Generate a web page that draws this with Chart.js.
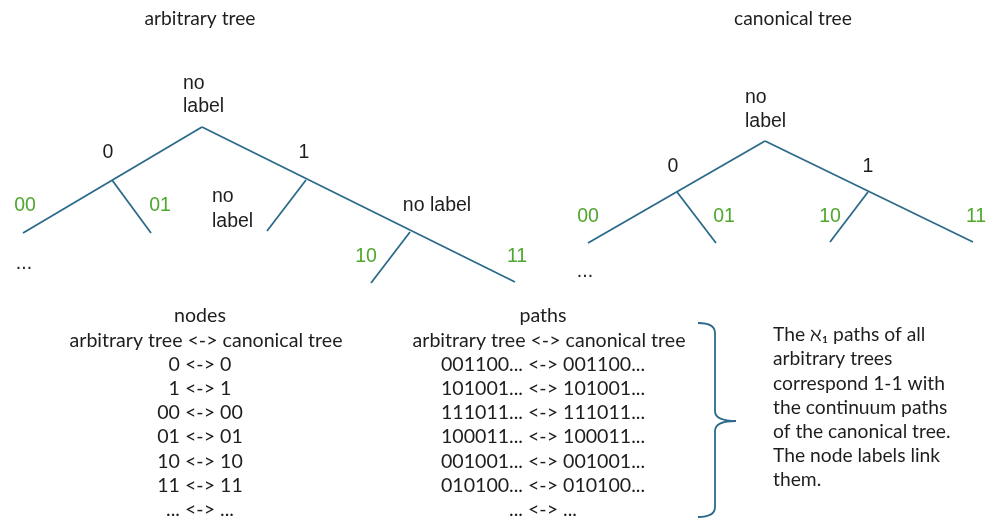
<!DOCTYPE html>
<html>
<head>
<meta charset="utf-8">
<script src="https://cdn.jsdelivr.net/npm/chart.js@4/dist/chart.umd.min.js"></script>
<style>
  html, body { margin: 0; padding: 0; background: #fff; }
  #wrap { width: 989px; height: 518px; }
</style>
</head>
<body>
<div id="wrap"><canvas id="tree" width="989" height="518"></canvas></div>
<script>
// diagram units: x 0..989 left->right, y 0..518 top->bottom
const LINE = '#2b6a8a';
const GREEN = '#4ea72e';
const INK = '#1e1e1e';

// tree edges, each a polyline of [x, y] nodes
const arbitraryEdges = [
  [[202, 127], [23, 233]],
  [[112, 180], [151, 233]],
  [[202, 127], [515, 282]],
  [[306, 180], [267, 231]],
  [[410, 232], [371, 283]]
];
const canonicalEdges = [
  [[765, 141], [588, 243]],
  [[677, 192], [716, 243]],
  [[765, 141], [973, 242]],
  [[868, 192], [830, 242]]
];

// node labels: [text, x, y, colour, align]
const arbitraryLabels = [
  ['no', 183, 84, INK, 'left'],
  ['label', 183, 107, INK, 'left'],
  ['0', 108, 153, INK, 'center'],
  ['1', 304, 153, INK, 'center'],
  ['00', 25, 206, GREEN, 'center'],
  ['01', 160, 206, GREEN, 'center'],
  ['no', 212, 197, INK, 'left'],
  ['label', 212, 222, INK, 'left'],
  ['no label', 437, 206, INK, 'center'],
  ['10', 366, 257, GREEN, 'center'],
  ['11', 517, 257, GREEN, 'center'],
  ['...', 24, 264, INK, 'center']
];
const canonicalLabels = [
  ['no', 745, 98, INK, 'left'],
  ['label', 745, 122, INK, 'left'],
  ['0', 673, 167, INK, 'center'],
  ['1', 868, 167, INK, 'center'],
  ['00', 588, 217, GREEN, 'center'],
  ['01', 724, 217, GREEN, 'center'],
  ['10', 830, 217, GREEN, 'center'],
  ['11', 976, 217, GREEN, 'center'],
  ['...', 585, 272, INK, 'center']
];
const titles = [['arbitrary tree', 200, 19], ['canonical tree', 793, 19]];

// correspondence tables
const nodeRows = ['nodes', 'arbitrary tree <-> canonical tree', '0 <-> 0', '1 <-> 1',
  '00 <-> 00', '01 <-> 01', '10 <-> 10', '11 <-> 11', '... <-> ...'];
const pathRows = ['paths', 'arbitrary tree <-> canonical tree', '001100... <-> 001100...',
  '101001... <-> 101001...', '111011... <-> 111011...', '100011... <-> 100011...',
  '001001... <-> 001001...', '010100... <-> 010100...', '... <-> ...'];
const noteLines = ['The \u2135\u2081 paths of all', 'arbitrary trees', 'correspond 1-1 with',
  'the continuum paths', 'of the canonical tree.', 'The node labels link', 'them.'];

// brace: top end, top of spine, tip, bottom of spine, bottom end
const braceTop = [698, 323], braceSpineX = 715, braceTip = [736, 421], braceBottom = [698, 517];

function edgeDatasets(edges) {
  return edges.map(e => ({
    data: e.map(p => ({ x: p[0], y: p[1] })),
    showLine: true,
    borderColor: LINE,
    borderWidth: 1.8,
    pointRadius: 0,
    fill: false
  }));
}

// pick a font size so that sample text has the wanted width
function fitFont(ctx, family, sample, width) {
  ctx.font = '20px ' + family;
  const size = 20 * width / ctx.measureText(sample).width;
  return size.toFixed(2) + 'px ' + family;
}

const textPlugin = {
  id: 'diagramText',
  afterDraw(chart) {
    const ctx = chart.ctx;
    const sx = v => chart.scales.x.getPixelForValue(v);
    const sy = v => chart.scales.y.getPixelForValue(v);
    const body = 'Lato, "Noto Sans", sans-serif';
    ctx.save();
    ctx.textBaseline = 'middle';

    ctx.font = fitFont(ctx, body, 'arbitrary tree', 111);
    ctx.fillStyle = INK;
    ctx.textAlign = 'center';
    titles.forEach(t => ctx.fillText(t[0], sx(t[1]), sy(t[2])));

    ctx.font = '19.5px "Liberation Sans", Arial, sans-serif';
    [...arbitraryLabels, ...canonicalLabels].forEach(l => {
      ctx.fillStyle = l[3];
      ctx.textAlign = l[4];
      ctx.fillText(l[0], sx(l[1]), sy(l[2]));
    });

    ctx.font = fitFont(ctx, body, 'arbitrary tree <-> canonical tree', 273);
    ctx.fillStyle = INK;
    ctx.textAlign = 'center';
    const rowY = i => 316 + i * 24.2;
    nodeRows.forEach((r, i) => ctx.fillText(r, sx(i === 1 ? 206 : 200), sy(rowY(i))));
    pathRows.forEach((r, i) => ctx.fillText(r, sx(i === 1 ? 549 : 543), sy(rowY(i))));

    ctx.font = fitFont(ctx, body, 'correspond 1-1 with', 172);
    ctx.textAlign = 'left';
    noteLines.forEach((r, i) => ctx.fillText(r, sx(773), sy(335 + i * 24.2)));

    // right brace
    const midY = braceTip[1];
    ctx.strokeStyle = LINE;
    ctx.lineWidth = 1.8;
    ctx.beginPath();
    ctx.moveTo(sx(braceTop[0]), sy(braceTop[1]));
    ctx.quadraticCurveTo(sx(braceSpineX), sy(braceTop[1]), sx(braceSpineX), sy(braceTop[1] + 10));
    ctx.lineTo(sx(braceSpineX), sy(midY - 10));
    ctx.quadraticCurveTo(sx(braceSpineX), sy(midY), sx(braceTip[0]), sy(midY));
    ctx.quadraticCurveTo(sx(braceSpineX), sy(midY), sx(braceSpineX), sy(midY + 10));
    ctx.lineTo(sx(braceSpineX), sy(braceBottom[1] - 10));
    ctx.quadraticCurveTo(sx(braceSpineX), sy(braceBottom[1]), sx(braceBottom[0]), sy(braceBottom[1]));
    ctx.stroke();
    ctx.restore();
  }
};

new Chart(document.getElementById('tree'), {
  type: 'scatter',
  data: { datasets: [...edgeDatasets(arbitraryEdges), ...edgeDatasets(canonicalEdges)] },
  options: {
    responsive: false,
    devicePixelRatio: 1,
    animation: false,
    layout: { padding: 0 },
    plugins: { legend: { display: false }, tooltip: { enabled: false } },
    scales: {
      x: { type: 'linear', min: 0, max: 989, display: false },
      y: { type: 'linear', min: 0, max: 518, reverse: true, display: false }
    }
  },
  plugins: [textPlugin]
});
</script>
</body>
</html>
